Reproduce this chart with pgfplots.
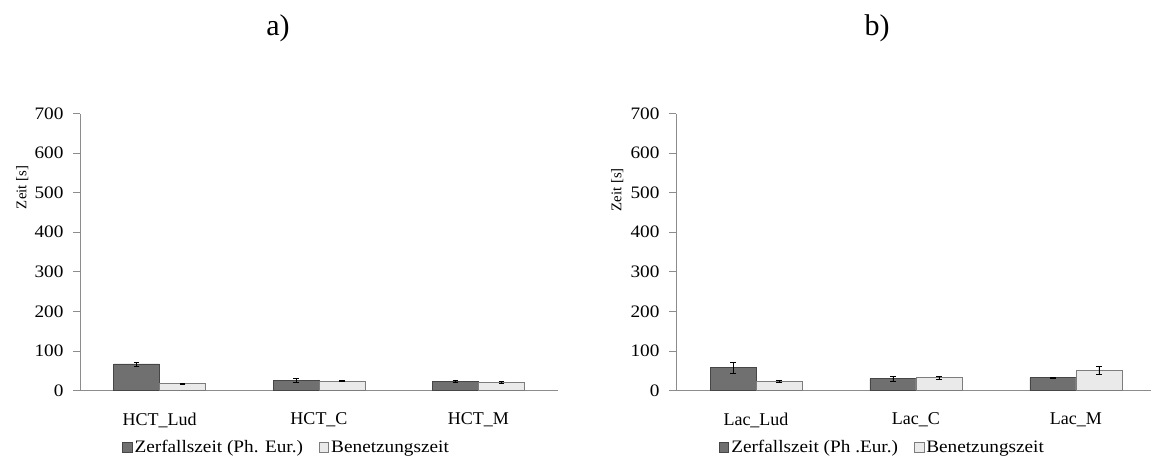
\documentclass[border=0pt]{standalone}
\usepackage{pgfplots}
\pgfplotsset{compat=1.18}
\usepackage{pgfplotstable}
\usepackage{fontspec}
\setmainfont{Liberation Serif}
\newfontfamily\widefont{Liberation Serif}[FakeStretch=1.1]
\definecolor{darkbar}{RGB}{112,112,112}
\definecolor{darkedge}{RGB}{70,70,70}
\definecolor{lightbar}{RGB}{234,234,234}
\definecolor{lightedge}{RGB}{125,125,125}
\definecolor{axisgray}{RGB}{140,140,140}

\pgfplotstableread{
x y e
0 67 5
1 25 5
2 24 3
}\leftdark
\pgfplotstableread{
x y e
0 17 2
1 24 1.5
2 20 2
}\leftlight
\pgfplotstableread{
x y e
0 58 14
1 30 7
2 32 2
}\rightdark
\pgfplotstableread{
x y e
0 23 2
1 33 4
2 51 10
}\rightlight

\pgfplotsset{
  mybars/.style={
    scale only axis,
    height=277pt,
    ymin=0, ymax=700,
    ytick={0,100,...,700},
    axis x line=bottom,
    axis y line=left,
    axis line style={-,draw=axisgray,line width=0.8pt},
    tick style={draw=axisgray,line width=0.8pt},
    tick align=outside,
    major tick length=7pt,
    xtick={0,1,2},
    major x tick style={draw=none},
    extra x ticks={-0.5,0.5,1.5,2.5},
    extra x tick labels={},
    extra x tick style={major tick length=7pt, tick style={draw=axisgray}},
    ybar=0pt,
    bar width=46pt,
    /pgf/number format/assume math mode=true,
    yticklabel style={font=\widefont\fontsize{17.5}{19}\selectfont, xshift=-6pt},
    xticklabel style={font=\fontsize{18}{20}\selectfont, yshift=-12pt},
    ylabel={Zeit [s]},
    ylabel style={font=\fontsize{14.8}{16}\selectfont, anchor=center, rotate=0},
    legend columns=2,
    legend cell align=left,
    legend image code/.code={\draw[#1] (0pt,-4.5pt) rectangle (9.5pt,5pt);},
    legend style={draw=none, fill=none, anchor=west, inner sep=0pt,
      font=\widefont\fontsize{17.5}{19}\selectfont,
      /tikz/every even column/.append style={column sep=14pt},
      /tikz/every odd column/.append style={column sep=0pt}},
    error bars/y dir=both,
    error bars/y explicit,
    error bars/error mark options={rotate=90, mark size=2.8pt, line width=0.6pt, black},
    error bars/error bar style={line width=0.6pt, black},
  }
}

\begin{document}
\begin{tikzpicture}
\path[use as bounding box] (0,0) rectangle (1151pt,460pt);

\node[font=\fontsize{30}{32}\selectfont] at (278pt,432pt) {a)};
\node[font=\fontsize{30}{32}\selectfont] at (877pt,432pt) {b)};

\begin{axis}[mybars,
  at={(80pt,69.5pt)}, anchor=south west,
  width=478pt,
  xmin=-0.5, xmax=2.5,
  xticklabels={HCT\_Lud,HCT\_C,HCT\_M},
  ylabel style={at={(rel axis cs:-0.121,0.733)}},
  legend style={at={(rel axis cs:0.088,-0.206)}},
]
\addplot[fill=darkbar, draw=darkedge, line width=0.8pt] table[x=x,y=y,y error=e]{\leftdark};
\addplot[fill=lightbar, draw=lightedge, line width=0.8pt] table[x=x,y=y,y error=e]{\leftlight};
\legend{Zerfallszeit (Ph. Eur.),Benetzungszeit}
\end{axis}

\begin{axis}[mybars,
  at={(676pt,69.5pt)}, anchor=south west,
  width=475pt,
  xmin=-0.5, xmax=2.469,
  xticklabels={Lac\_Lud,Lac\_C,Lac\_M},
  ylabel style={at={(rel axis cs:-0.124,0.725)}},
  legend style={at={(rel axis cs:0.09,-0.206)}},
]
\addplot[fill=darkbar, draw=darkedge, line width=0.8pt] table[x=x,y=y,y error=e]{\rightdark};
\addplot[fill=lightbar, draw=lightedge, line width=0.8pt] table[x=x,y=y,y error=e]{\rightlight};
\legend{Zerfallszeit (Ph .Eur.),Benetzungszeit}
\end{axis}
\end{tikzpicture}
\end{document}
